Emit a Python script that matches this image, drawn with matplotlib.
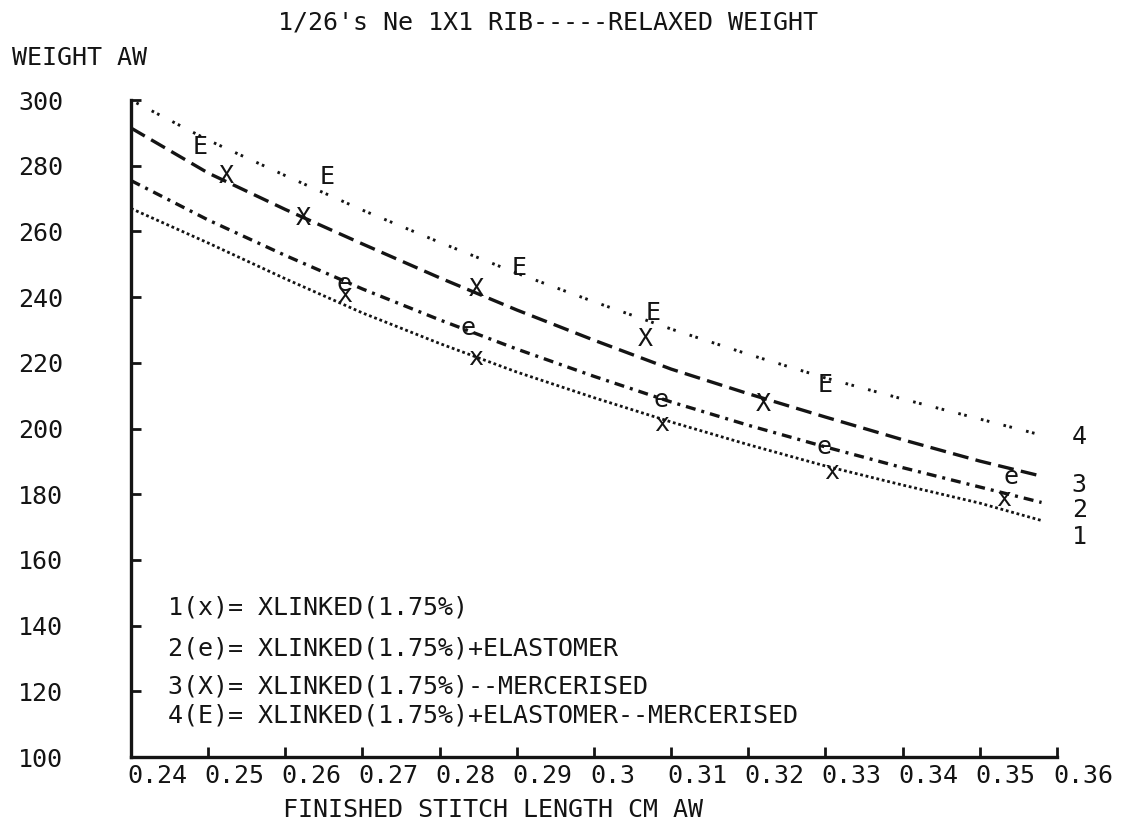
import matplotlib
matplotlib.use("Agg")
import matplotlib.pyplot as plt
from matplotlib.transforms import ScaledTranslation

# ---- data ----
x_curve = [0.24, 0.25, 0.26, 0.27, 0.28, 0.29, 0.30, 0.31, 0.32, 0.33, 0.34, 0.35, 0.358]
curve1 = [267.0, 256.5, 245.6, 235.2, 225.9, 217.2, 209.4, 202.0, 195.1, 188.6, 182.8, 177.3, 172.0]
curve2 = [275.5, 263.5, 252.7, 242.5, 233.1, 224.2, 215.9, 208.1, 201.0, 194.4, 188.1, 182.2, 177.5]
curve3 = [291.5, 277.8, 266.7, 256.2, 245.9, 236.1, 226.9, 218.1, 210.6, 203.5, 196.6, 190.1, 185.5]
curve4 = [300.0, 287.8, 277.0, 266.5, 256.7, 247.3, 238.6, 230.3, 222.6, 215.4, 209.0, 202.9, 198.0]

pts1_x = [0.2677, 0.2847, 0.3087, 0.3308, 0.3531]
pts1_y = [240.6, 221.5, 201.4, 186.8, 178.5]
pts2_x = [0.2676, 0.2837, 0.3087, 0.3298, 0.3541]
pts2_y = [244.0, 230.6, 208.7, 194.4, 185.2]
pts3_x = [0.2523, 0.2623, 0.2847, 0.3067, 0.3220]
pts3_y = [276.9, 264.1, 242.5, 227.2, 207.5]
pts4_x = [0.2489, 0.2654, 0.2903, 0.3077, 0.3299]
pts4_y = [285.7, 276.6, 248.9, 235.2, 213.2]

marker_chars = ["x", "e", "X", "E"]
curve_names = ["1", "2", "3", "4"]
end_label_y = [167.0, 175.2, 182.8, 197.4]

legend_lines = [
    "1(x)= XLINKED(1.75%)",
    "2(e)= XLINKED(1.75%)+ELASTOMER",
    "3(X)= XLINKED(1.75%)--MERCERISED",
    "4(E)= XLINKED(1.75%)+ELASTOMER--MERCERISED",
]
legend_y = [145.4, 132.9, 121.6, 112.5]

x_ticks = [0.24, 0.25, 0.26, 0.27, 0.28, 0.29, 0.30, 0.31, 0.32, 0.33, 0.34, 0.35, 0.36]
x_tick_labels = ["0.24", "0.25", "0.26", "0.27", "0.28", "0.29", "0.3", "0.31",
                 "0.32", "0.33", "0.34", "0.35", "0.36"]
y_ticks = [100, 120, 140, 160, 180, 200, 220, 240, 260, 280, 300]
y_tick_labels = ["100", "120", "140", "160", "180", "200", "220", "240", "260", "280", "300"]

title = "1/26's Ne 1X1 RIB-----RELAXED WEIGHT"
ylabel = "WEIGHT AW"
xlabel = "FINISHED STITCH LENGTH CM AW"

# ---- style ----
ink = "#141414"
FONT = "DejaVu Sans Mono"
FS = 18
plt.rcParams["font.family"] = [FONT]

fig = plt.figure(figsize=(11.26, 8.27), dpi=100)
ax = fig.add_axes([0.1163, 0.0846, 0.8224, 0.7944])

ax.set_xlim(0.24, 0.36)
ax.set_ylim(100, 300)

styles = [
    dict(linestyle=(0, (1.0, 1.0)), linewidth=2.0),
    dict(linestyle=(0, (3.0, 1.8, 0.9, 1.8)), linewidth=2.4),
    dict(linestyle=(0, (4.8, 2.2)), linewidth=2.4),
    dict(linestyle=(0, (0.9, 1.2, 0.9, 5.0)), linewidth=2.1),
]
curves = [curve1, curve2, curve3, curve4]
for ys, st in zip(curves, styles):
    ax.plot(x_curve, ys, color=ink, dash_capstyle="butt", **st)

pts = [(pts1_x, pts1_y), (pts2_x, pts2_y), (pts3_x, pts3_y), (pts4_x, pts4_y)]
for (px, py), ch in zip(pts, marker_chars):
    for a, b in zip(px, py):
        ax.text(a, b, ch, ha="center", va="center", fontsize=FS, color=ink)

for name, yv in zip(curve_names, end_label_y):
    ax.text(0.3629, yv, name, ha="center", va="center", fontsize=FS, color=ink,
            clip_on=False)

for line, yv in zip(legend_lines, legend_y):
    ax.text(0.2448, yv, line, ha="left", va="center", fontsize=FS, color=ink)

# spines
for s in ["top", "right"]:
    ax.spines[s].set_visible(False)
for s in ["left", "bottom"]:
    ax.spines[s].set_linewidth(2.4)
    ax.spines[s].set_color(ink)

ax.set_xticks(x_ticks)
ax.set_xticklabels(x_tick_labels)
ax.set_yticks(y_ticks)
ax.set_yticklabels(y_tick_labels)
ax.tick_params(axis="both", direction="in", length=7, width=2.0, colors=ink,
               labelsize=FS)
ax.tick_params(axis="y", pad=49)
ax.tick_params(axis="x", pad=5)
off = ScaledTranslation(-4 / 100, 0, fig.dpi_scale_trans)
for lab in ax.get_xticklabels():
    lab.set_horizontalalignment("left")
    lab.set_transform(lab.get_transform() + off)

fig.text(0.4867, 0.973, title, ha="center", va="center", fontsize=FS, color=ink)
fig.text(0.0107, 0.930, ylabel, ha="left", va="center", fontsize=FS, color=ink)
fig.text(0.438, 0.0206, xlabel, ha="center", va="center", fontsize=FS, color=ink)

fig.savefig("out.png", dpi=100, facecolor="white")
